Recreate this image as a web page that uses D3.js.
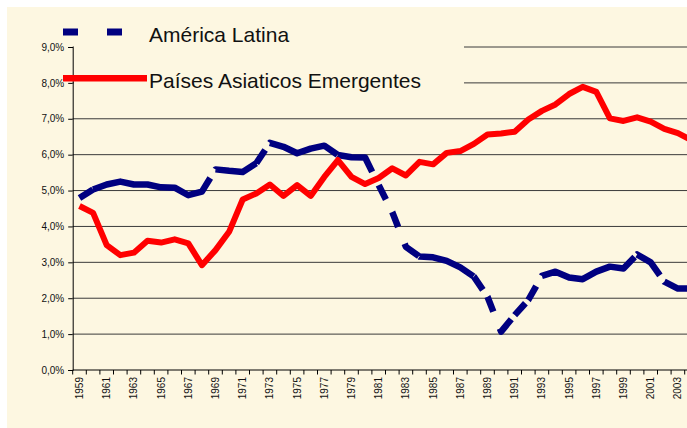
<!DOCTYPE html>
<html>
<head>
<meta charset="utf-8">
<script src="https://cdn.jsdelivr.net/npm/d3@7"></script>
<style>
    body { margin: 0; background: #ffffff; }
    svg { display: block; font-family: "Liberation Sans", Arial, sans-serif; }
</style>
</head>
<body>
<div id="chart"></div>
<script>
// Categories: years shown on the x axis (last one is cut by the frame)
const years = [1959, 1960, 1961, 1962, 1963, 1964, 1965, 1966, 1967, 1968,
    1969, 1970, 1971, 1972, 1973, 1974, 1975, 1976, 1977, 1978,
    1979, 1980, 1981, 1982, 1983, 1984, 1985, 1986, 1987, 1988,
    1989, 1990, 1991, 1992, 1993, 1994, 1995, 1996, 1997, 1998,
    1999, 2000, 2001, 2002, 2003, 2004];

// Growth rates in %
const latinAmerica = [4.79, 5.03, 5.17, 5.25, 5.17, 5.17, 5.09, 5.08, 4.87, 4.97,
    5.59, 5.55, 5.52, 5.76, 6.33, 6.22, 6.04, 6.17, 6.25, 5.99,
    5.93, 5.92, 5.15, 4.40, 3.43, 3.16, 3.14, 3.04, 2.86, 2.60,
    2.04, 1.07, 1.53, 1.95, 2.62, 2.74, 2.58, 2.53, 2.74, 2.88,
    2.83, 3.22, 3.00, 2.46, 2.27, 2.27];

const emergingAsia = [4.57, 4.38, 3.48, 3.20, 3.27, 3.60, 3.55, 3.64, 3.53, 2.92,
    3.34, 3.85, 4.75, 4.92, 5.17, 4.85, 5.15, 4.85, 5.38, 5.85,
    5.38, 5.18, 5.35, 5.62, 5.42, 5.80, 5.73, 6.05, 6.10, 6.30,
    6.56, 6.59, 6.64, 6.98, 7.22, 7.40, 7.69, 7.89, 7.75, 7.01,
    6.94, 7.04, 6.92, 6.72, 6.60, 6.40];

const yTicks = [0, 1, 2, 3, 4, 5, 6, 7, 8, 9];
const xLabelYears = years.filter(y => y % 2 === 1);

const seriesNames = ["América Latina", "Países Asiaticos Emergentes"];

const W = 687, H = 428;
const plotLeft = 72.7, plotTop = 47, plotBottom = 370;
const step = 13.6;

const svg = d3.select("#chart").append("svg")
    .attr("width", W)
    .attr("height", H);

// chart area background
svg.append("rect")
    .attr("x", 7).attr("y", 7)
    .attr("width", W - 7).attr("height", H - 7)
    .attr("fill", "#fdf7e1");

const x = d3.scaleBand()
    .domain(years)
    .range([plotLeft, plotLeft + step * years.length])
    .padding(0);

const y = d3.scaleLinear()
    .domain([0, 9])
    .range([plotBottom, plotTop]);

const plotRight = plotLeft + step * years.length;

// gridlines
svg.append("g")
    .selectAll("line")
    .data(yTicks.filter(d => d > 0))
    .join("line")
    .attr("x1", plotLeft).attr("x2", plotRight)
    .attr("y1", d => y(d)).attr("y2", d => y(d))
    .attr("stroke", "#3a3a3a")
    .attr("stroke-width", 1);

// legend box hides gridlines behind it
svg.append("rect")
    .attr("x", 74).attr("y", 18)
    .attr("width", 390).attr("height", 82)
    .attr("fill", "#fdf7e1");

// y axis
const yAxis = svg.append("g")
    .attr("transform", `translate(${plotLeft},0)`)
    .call(d3.axisLeft(y)
        .tickValues(yTicks)
        .tickSize(4.5)
        .tickPadding(4)
        .tickFormat(d => d.toFixed(1).replace(".", ",") + "%"));
yAxis.select(".domain").attr("stroke", "#000");
yAxis.selectAll(".tick line").attr("stroke", "#000");
yAxis.selectAll("text")
    .attr("fill", "#111")
    .style("font-size", "10px")
    .style("font-family", "\"Liberation Sans\", Arial, sans-serif");

// x axis: line, ticks at category boundaries, rotated labels
svg.append("line")
    .attr("x1", plotLeft).attr("x2", plotRight)
    .attr("y1", plotBottom).attr("y2", plotBottom)
    .attr("stroke", "#000");

svg.append("g")
    .selectAll("line")
    .data(years)
    .join("line")
    .attr("x1", d => x(d)).attr("x2", d => x(d))
    .attr("y1", plotBottom).attr("y2", plotBottom + 4.5)
    .attr("stroke", "#000");

svg.append("g")
    .selectAll("text")
    .data(xLabelYears)
    .join("text")
    .attr("transform", d => `translate(${x(d) + x.bandwidth() / 2},377) rotate(-90)`)
    .attr("text-anchor", "end")
    .attr("dy", "0.35em")
    .attr("fill", "#111")
    .style("font-size", "10px")
    .text(d => d);

// Excel-style dashes: the pattern restarts at every point of the line
function dashesPerSegment(pts, dash, gap) {
    const out = [];
    const push = (on, len) => {
        if (out.length && (out.length % 2 === 1) === on) out[out.length - 1] += len;
        else {
            if (!out.length && !on) out.push(0);
            out.push(len);
        }
    };
    for (let i = 1; i < pts.length; i++) {
        const L = Math.hypot(pts[i][0] - pts[i - 1][0], pts[i][1] - pts[i - 1][1]);
        let pos = 0, on = true;
        while (pos < L - 1e-6) {
            const take = Math.min(on ? dash : gap, L - pos);
            push(on, take);
            pos += take;
            on = !on;
        }
    }
    if (out.length % 2 === 1) out.push(0);
    return out.join(",");
}

const line = d3.line()
    .x((d, i) => x(years[i]) + x.bandwidth() / 2)
    .y(d => y(d));

const latPts = latinAmerica.map((d, i) => [x(years[i]) + x.bandwidth() / 2, y(d)]);

svg.append("path")
    .datum(latinAmerica)
    .attr("d", line)
    .attr("fill", "none")
    .attr("stroke", "#000080")
    .attr("stroke-width", 6.5)
    .attr("stroke-linejoin", "round")
    .attr("stroke-dasharray", dashesPerSegment(latPts, 16, 18));

svg.append("path")
    .datum(emergingAsia)
    .attr("d", line)
    .attr("fill", "none")
    .attr("stroke", "#ff0000")
    .attr("stroke-width", 6)
    .attr("stroke-linejoin", "round");

// legend
const legend = svg.append("g");
legend.append("line")
    .attr("x1", 63).attr("x2", 123)
    .attr("y1", 32).attr("y2", 32)
    .attr("stroke", "#000080")
    .attr("stroke-width", 7)
    .attr("stroke-dasharray", "15,29");
legend.append("line")
    .attr("x1", 63).attr("x2", 147)
    .attr("y1", 78.3).attr("y2", 78.3)
    .attr("stroke", "#ff0000")
    .attr("stroke-width", 6.5);
legend.selectAll("text")
    .data(seriesNames)
    .join("text")
    .attr("x", 149)
    .attr("y", (d, i) => i === 0 ? 42 : 88)
    .attr("fill", "#111")
    .style("font-size", "21px")
    .text(d => d);
</script>
</body>
</html>
